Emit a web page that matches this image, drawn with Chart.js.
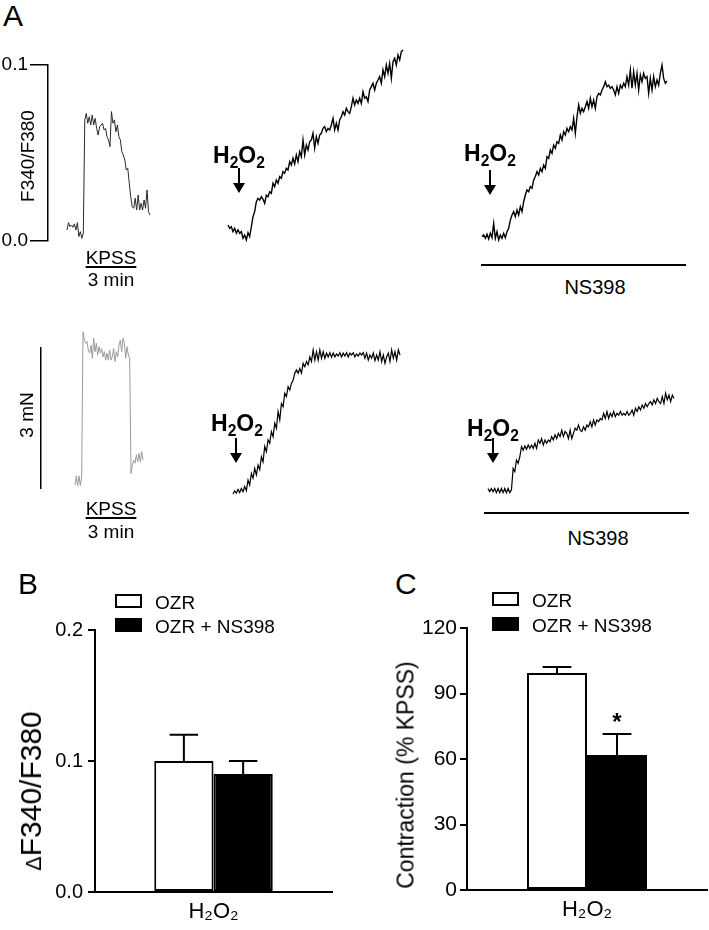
<!DOCTYPE html>
<html lang="en">
<head>
<meta charset="utf-8">
<title>H2O2 responses with NS398</title>
<script src="https://cdn.jsdelivr.net/npm/chart.js@4.4.1/dist/chart.umd.min.js"></script>
<style>
    html, body { margin: 0; padding: 0; background: #fff; }
    #figure { position: relative; width: 709px; height: 930px; overflow: hidden;
              font-family: "Liberation Sans", Arial, Helvetica, sans-serif; color: #000; }
    #figure canvas { position: absolute; }
    .txt { position: absolute; line-height: 1; white-space: nowrap; }
    .panel { font-size: 30px; }
    .stim { font-size: 23px; font-weight: bold; }
    .stim sub { font-size: 0.68em; line-height: 0; vertical-align: -0.32em; }
    .arrow { position: absolute; width: 12px; height: 25px; }
    .arrow::before { content: ''; position: absolute; left: 5px; top: 0; width: 2px; height: 16px; background: #000; }
    .arrow::after { content: ''; position: absolute; left: 0; bottom: 0; border-left: 6px solid transparent;
                    border-right: 6px solid transparent; border-top: 10px solid #000; }
    .note { font-size: 19px; width: 90px; text-align: center; }
    .kpss { text-decoration: underline; text-decoration-thickness: 1.5px; text-underline-offset: 2px; }
    .drug-line { position: absolute; height: 2px; background: #000; }
    .drug { font-size: 20px; width: 100px; text-align: center; }
    .vtitle { position: absolute; line-height: 1; white-space: nowrap; transform: translate(-50%, -50%) rotate(-90deg); }
    .vtitle small { font-size: 0.72em; }
    .swatch { position: absolute; width: 27px; height: 14px; border: 2px solid #000; box-sizing: border-box; }
    .leg { font-size: 19px; }
</style>
</head>
<body>
<div id="figure">
    <div class="txt panel" style="left:3px;top:1px">A</div>

    <!-- top row: F340/F380 traces -->
    <canvas id="ratioScale" width="52" height="230" style="left:0;top:30px"></canvas>
    <div class="vtitle" style="left:27px;top:156px;font-size:19px">F340/F380</div>
    <canvas id="ratioKpss" width="87" height="230" style="left:65px;top:30px"></canvas>
    <canvas id="ratioH2o2" width="179" height="230" style="left:226px;top:30px"></canvas>
    <canvas id="ratioNs" width="189" height="230" style="left:480px;top:30px"></canvas>

    <div class="txt note kpss" style="left:66px;top:248px">KPSS</div>
    <div class="txt note" style="left:66px;top:270px">3 min</div>
    <div class="txt stim" style="left:213px;top:144px">H<sub>2</sub>O<sub>2</sub></div>
    <div class="arrow" style="left:233px;top:168px"></div>
    <div class="txt stim" style="left:464px;top:142px">H<sub>2</sub>O<sub>2</sub></div>
    <div class="arrow" style="left:484px;top:170px"></div>
    <div class="drug-line" style="left:481px;top:264px;width:205px"></div>
    <div class="txt drug" style="left:545px;top:277px">NS398</div>

    <!-- bottom row: tension traces -->
    <canvas id="forceScale" width="45" height="190" style="left:0;top:320px"></canvas>
    <div class="vtitle" style="left:26px;top:415px;font-size:19px">3 mN</div>
    <canvas id="forceKpss" width="72" height="190" style="left:73px;top:320px"></canvas>
    <canvas id="forceH2o2" width="171" height="190" style="left:231px;top:320px"></canvas>
    <canvas id="forceNs" width="190" height="190" style="left:486px;top:320px"></canvas>

    <div class="txt note kpss" style="left:66px;top:499px">KPSS</div>
    <div class="txt note" style="left:66px;top:522px">3 min</div>
    <div class="txt stim" style="left:211px;top:412px">H<sub>2</sub>O<sub>2</sub></div>
    <div class="arrow" style="left:230px;top:438px"></div>
    <div class="txt stim" style="left:467px;top:417px">H<sub>2</sub>O<sub>2</sub></div>
    <div class="arrow" style="left:487px;top:438px"></div>
    <div class="drug-line" style="left:484px;top:512px;width:205px"></div>
    <div class="txt drug" style="left:548px;top:528px">NS398</div>

    <!-- B and C -->
    <div class="txt panel" style="left:18px;top:569px">B</div>
    <canvas id="calciumChart" width="340" height="370" style="left:0;top:560px"></canvas>
    <div class="vtitle" style="left:31px;top:791px;font-size:30px"><small>&Delta;</small>F340/F380</div>
    <div id="calciumLegend"></div>

    <div class="txt panel" style="left:395px;top:569px">C</div>
    <canvas id="contractionChart" width="349" height="370" style="left:360px;top:560px"></canvas>
    <div class="vtitle" style="left:406px;top:775px;font-size:23px">Contraction (% KPSS)</div>
    <div id="contractionLegend"></div>
</div>

<script>
// Fura-2 ratio traces (F340/F380), one value per sample
const kpssRatio = [0.0063, 0.0104, 0.0081, 0.0091, 0.0078, 0.0097, 0.0063, 0.0104, 0.0025, 0.0053, 0.0015, 0.0045,
    0.0688, 0.0725, 0.0669, 0.0706, 0.0659, 0.0716, 0.0659, 0.0697, 0.0640, 0.0602, 0.0649, 0.0659, 0.0669,
    0.0631, 0.0640, 0.0593, 0.0574, 0.0536, 0.0735, 0.0669, 0.0688, 0.0621, 0.0659, 0.0593, 0.0574, 0.0507,
    0.0489, 0.0460, 0.0403, 0.0413, 0.0328, 0.0252, 0.0195, 0.0186, 0.0243, 0.0176, 0.0261, 0.0176, 0.0214,
    0.0176, 0.0233, 0.0186, 0.0290, 0.0166, 0.0148];

const h2o2Ratio = [0.0091, 0.0072, 0.0081, 0.0053, 0.0072, 0.0044, 0.0063, 0.0044, 0.0053, 0.0015, 0.0034, 0.0006,
    0.0047, 0.0025, 0.0081, 0.0138, 0.0167, 0.0223, 0.0242, 0.0233, 0.0252, 0.0237, 0.0214, 0.0261, 0.0252,
    0.0280, 0.0271, 0.0328, 0.0309, 0.0347, 0.0328, 0.0366, 0.0356, 0.0394, 0.0385, 0.0413, 0.0403, 0.0451,
    0.0432, 0.0470, 0.0438, 0.0489, 0.0451, 0.0508, 0.0479, 0.0574, 0.0489, 0.0545, 0.0517, 0.0564, 0.0574,
    0.0612, 0.0527, 0.0593, 0.0555, 0.0602, 0.0612, 0.0640, 0.0650, 0.0621, 0.0640, 0.0631, 0.0659, 0.0697,
    0.0631, 0.0669, 0.0631, 0.0688, 0.0706, 0.0735, 0.0716, 0.0754, 0.0735, 0.0725, 0.0763, 0.0811, 0.0773,
    0.0801, 0.0782, 0.0811, 0.0782, 0.0848, 0.0811, 0.0820, 0.0792, 0.0858, 0.0877, 0.0896, 0.0858, 0.0896,
    0.0915, 0.0934, 0.0896, 0.0972, 0.0934, 0.1000, 0.0953, 0.1009, 0.0924, 0.1019, 0.1038, 0.1000, 0.1057,
    0.1028, 0.1076, 0.1085];

const h2o2NsRatio = [0.0025, 0.0034, 0.0015, 0.0038, 0.0011, 0.0044, 0.0019, 0.0100, 0.0015, 0.0053, 0.0006,
    0.0034, 0.0015, 0.0044, 0.0019, 0.0053, 0.0072, 0.0119, 0.0148, 0.0167, 0.0138, 0.0176, 0.0148, 0.0195,
    0.0167, 0.0223, 0.0261, 0.0290, 0.0280, 0.0309, 0.0299, 0.0347, 0.0366, 0.0394, 0.0375, 0.0413, 0.0394,
    0.0432, 0.0413, 0.0479, 0.0470, 0.0517, 0.0498, 0.0545, 0.0527, 0.0564, 0.0555, 0.0602, 0.0574, 0.0621,
    0.0602, 0.0640, 0.0621, 0.0650, 0.0631, 0.0697, 0.0612, 0.0706, 0.0773, 0.0726, 0.0754, 0.0735, 0.0763,
    0.0792, 0.0754, 0.0811, 0.0763, 0.0801, 0.0754, 0.0820, 0.0839, 0.0830, 0.0858, 0.0877, 0.0905, 0.0877,
    0.0886, 0.0868, 0.0877, 0.0858, 0.0830, 0.0877, 0.0839, 0.0886, 0.0868, 0.0896, 0.0877, 0.0934, 0.0886,
    0.0972, 0.0868, 0.0962, 0.0886, 0.0953, 0.0858, 0.0943, 0.0905, 0.0953, 0.0924, 0.0934, 0.0839, 0.0924,
    0.0858, 0.0934, 0.0877, 0.0915, 0.0886, 0.0953, 0.1000, 0.0924, 0.0896, 0.0909];

// Tension traces (mN), one value per sample
const kpssTension = [0.06, 0.26, 0.05, 0.26, 0.05, 0.24,
    3.35, 3.17, 3.10, 3.14, 2.96, 2.89, 3.06, 2.78, 3.21, 2.92, 3.10, 2.85, 3.03, 2.89, 2.99, 2.81, 2.92, 2.74,
    2.89, 2.74, 2.96, 2.74, 2.81, 2.99, 2.71, 2.92, 2.81, 3.06, 3.17, 2.92, 3.21, 3.10, 2.78, 3.03, 2.85, 2.78,
    0.31, 0.49, 0.60, 0.53, 0.71, 0.56, 0.74, 0.56, 0.78, 0.60];

const h2o2Tension = [-0.13, -0.06, -0.11, -0.03, -0.10, -0.01, -0.08, 0.03, -0.06, 0.17, 0.06, 0.31, 0.21, 0.42,
    0.28, 0.49, 0.39, 0.67, 0.56, 0.89, 0.78, 1.03, 0.96, 1.21, 1.10, 1.39, 1.28, 1.64, 1.46, 1.81, 1.74, 2.03,
    1.96, 2.17, 2.10, 2.24, 2.31, 2.46, 2.53, 2.46, 2.56, 2.46, 2.67, 2.60, 2.71, 2.64, 2.81, 2.71, 2.96, 2.74,
    2.92, 2.74, 2.96, 2.78, 2.92, 2.78, 2.89, 2.81, 2.90, 2.80, 2.89, 2.81, 2.87, 2.83, 2.90, 2.81, 2.89, 2.83,
    2.90, 2.81, 2.89, 2.85, 2.90, 2.81, 2.87, 2.83, 2.89, 2.85, 2.90, 2.78, 2.89, 2.74, 2.85, 2.78, 2.89, 2.73,
    2.85, 2.74, 2.92, 2.71, 2.85, 2.67, 2.81, 2.89, 2.71, 2.96, 2.78, 2.92, 2.74, 2.96, 2.85];

const h2o2NsTension = [-0.01, -0.08, -0.01, -0.08, -0.01, -0.10, -0.01, -0.10, -0.01, -0.10, -0.01, -0.10, -0.01,
    -0.10, -0.04, 0.42, 0.35, 0.60, 0.53, 0.67, 0.89, 0.81, 0.90, 0.83, 0.92, 0.85, 0.92, 0.85, 0.96, 0.85, 1.03,
    0.96, 1.06, 0.92, 1.03, 0.96, 1.03, 0.99, 1.10, 1.03, 1.14, 1.06, 1.17, 1.10, 1.24, 1.10, 1.21, 1.17, 1.06,
    1.24, 1.06, 1.17, 1.28, 1.24, 1.35, 1.24, 1.21, 1.31, 1.24, 1.35, 1.31, 1.42, 1.31, 1.46, 1.35, 1.46, 1.42,
    1.49, 1.46, 1.60, 1.49, 1.64, 1.49, 1.60, 1.53, 1.64, 1.53, 1.60, 1.56, 1.64, 1.56, 1.60, 1.56, 1.64, 1.56,
    1.60, 1.67, 1.56, 1.71, 1.64, 1.74, 1.67, 1.78, 1.71, 1.81, 1.74, 1.81, 1.85, 1.78, 1.89, 1.81, 1.92, 1.85,
    1.81, 1.96, 1.81, 2.03, 1.89, 1.99, 1.85, 1.99, 1.92];

// Summary bars
const categories = ['H₂O₂'];
const seriesLabels = ['OZR', 'OZR + NS398'];
const seriesFill = ['#ffffff', '#000000'];
const calciumMeans = [0.100, 0.090];
const calciumSem = [0.020, 0.010];
const calciumMarks = ['', ''];
const contractionMeans = [99.4, 61.8];
const contractionSem = [2.7, 9.6];
const contractionMarks = ['', '*'];

Chart.defaults.font.family = '"Liberation Sans", Arial, Helvetica, sans-serif';
Chart.defaults.color = '#000';
Chart.defaults.animation = false;

// Draw a raw recording with hidden axes; rows share y range and padding so they line up
function traceChart(id, values, yMin, yMax, pad, color, width) {
    new Chart(document.getElementById(id), {
        type: 'line',
        data: {
            labels: values.map((v, i) => i),
            datasets: [{
                data: values,
                borderColor: color,
                borderWidth: width,
                pointRadius: 0,
                tension: 0,
                clip: false
            }]
        },
        options: {
            responsive: false,
            layout: { padding: { top: pad.top, bottom: pad.bottom, left: 2, right: 2 } },
            plugins: { legend: { display: false }, tooltip: { enabled: false } },
            scales: {
                x: { display: false },
                y: { display: false, min: yMin, max: yMax }
            }
        }
    });
}

// Calibration bar drawn as a bare y axis
function scaleBar(id, yMin, yMax, pad, axisWidth, tickOpts, gridOpts) {
    new Chart(document.getElementById(id), {
        type: 'line',
        data: { labels: [], datasets: [] },
        options: {
            responsive: false,
            layout: { padding: { top: pad.top, bottom: pad.bottom, right: 2 } },
            plugins: { legend: { display: false }, tooltip: { enabled: false } },
            scales: {
                x: { display: false },
                y: {
                    min: yMin,
                    max: yMax,
                    ticks: tickOpts,
                    grid: gridOpts,
                    border: { color: '#000', width: 1.5 },
                    afterFit: s => { s.width = axisWidth; }
                }
            }
        }
    });
}

// SEM whiskers (upper only) and significance marks
const errorBarPlugin = {
    id: 'errorBars',
    afterDatasetsDraw(chart) {
        const ctx = chart.ctx;
        const yScale = chart.scales.y;
        chart.data.datasets.forEach((ds, i) => {
            chart.getDatasetMeta(i).data.forEach((bar, j) => {
                const top = yScale.getPixelForValue(ds.data[j] + ds.errors[j]);
                const half = bar.width * 0.24;
                ctx.save();
                ctx.strokeStyle = '#000';
                ctx.lineWidth = 2;
                ctx.beginPath();
                ctx.moveTo(bar.x, bar.y);
                ctx.lineTo(bar.x, top);
                ctx.moveTo(bar.x - half, top);
                ctx.lineTo(bar.x + half, top);
                ctx.stroke();
                if (ds.marks && ds.marks[j]) {
                    ctx.fillStyle = '#000';
                    ctx.font = 'bold 24px "Liberation Sans", Arial, sans-serif';
                    ctx.textAlign = 'center';
                    ctx.textBaseline = 'alphabetic';
                    ctx.fillText(ds.marks[j], bar.x, top - 4);
                }
                ctx.restore();
            });
        });
    }
};

function barChart(id, means, errors, marks, axis, box) {
    new Chart(document.getElementById(id), {
        type: 'bar',
        data: {
            labels: categories,
            datasets: seriesLabels.map((label, i) => ({
                label: label,
                data: [means[i]],
                errors: [errors[i]],
                marks: [marks[i]],
                backgroundColor: seriesFill[i],
                borderColor: '#000',
                borderWidth: 2,
                borderSkipped: false,
                categoryPercentage: 0.5,
                barPercentage: 1
            }))
        },
        options: {
            responsive: false,
            layout: { padding: { top: box.top, right: box.right } },
            plugins: { legend: { display: false }, tooltip: { enabled: false } },
            scales: {
                x: {
                    grid: { display: false, drawTicks: false },
                    border: { color: '#000', width: 2 },
                    ticks: { font: { size: 22 }, padding: 7 },
                    afterFit: s => { s.height = box.bottom; }
                },
                y: {
                    min: axis.min,
                    max: axis.max,
                    ticks: { stepSize: axis.step, font: { size: axis.fontSize }, padding: axis.pad, callback: axis.format },
                    grid: { drawOnChartArea: false, tickLength: 7, color: '#000', lineWidth: 2 },
                    border: { color: '#000', width: 2 },
                    afterFit: s => { s.width = box.left; }
                }
            }
        },
        plugins: [errorBarPlugin]
    });
}

function legendHtml(left, top, gap) {
    return seriesLabels.map((label, i) => `
        <div class="swatch" style="left:${left}px;top:${top + i * gap}px;background:${seriesFill[i]}"></div>
        <div class="txt leg" style="left:${left + 40}px;top:${top + i * gap - 1}px">${label}</div>
    `).join('');
}

// Panel A
const ratioPad = { top: 35, bottom: 19 };
const forcePad = { top: 28, bottom: 22 };

scaleBar('ratioScale', 0, 0.1, ratioPad, 48,
    { stepSize: 0.1, font: { size: 19 }, padding: 2, callback: v => v.toFixed(1) },
    { drawOnChartArea: false, tickLength: 18, color: '#000', lineWidth: 1.5 });
traceChart('ratioKpss', kpssRatio, 0, 0.1, ratioPad, '#2a2a2a', 1);
traceChart('ratioH2o2', h2o2Ratio, 0, 0.1, ratioPad, '#000', 1.4);
traceChart('ratioNs', h2o2NsRatio, 0, 0.1, ratioPad, '#000', 1.4);

scaleBar('forceScale', 0, 3, forcePad, 41, { display: false }, { display: false });
traceChart('forceKpss', kpssTension, 0, 3, forcePad, '#9a9a9a', 1);
traceChart('forceH2o2', h2o2Tension, 0, 3, forcePad, '#000', 1.2);
traceChart('forceNs', h2o2NsTension, 0, 3, forcePad, '#000', 1.2);

// Panels B and C
barChart('calciumChart', calciumMeans, calciumSem, calciumMarks,
    { min: 0, max: 0.2, step: 0.1, fontSize: 20, pad: 5, format: v => v.toFixed(1) },
    { top: 70, right: 8, left: 95, bottom: 38 });
barChart('contractionChart', contractionMeans, contractionSem, contractionMarks,
    { min: 0, max: 120, step: 30, fontSize: 21, pad: 3, format: v => v },
    { top: 68, right: 2, left: 107, bottom: 40 });

document.getElementById('calciumLegend').innerHTML = legendHtml(115, 594, 24);
document.getElementById('contractionLegend').innerHTML = legendHtml(492, 592, 25);
</script>
</body>
</html>
